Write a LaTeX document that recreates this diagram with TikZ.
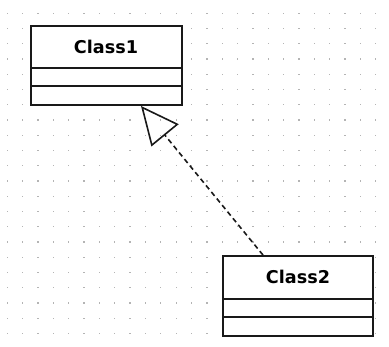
\documentclass[tikz,border=0pt]{standalone}
\usepackage{fontspec}
\setsansfont{DejaVu Sans}
\usetikzlibrary{arrows.meta}
\definecolor{dotc}{RGB}{180,180,180}
\definecolor{edge}{RGB}{25,25,25}
\tikzset{
  classbox/.style={draw=edge, fill=white, line width=1.9pt, minimum width=#1, inner sep=0pt},
  classtitle/.style={font=\sffamily\bfseries\fontsize{17.6}{20}\selectfont, inner sep=0pt, text=black},
  divider/.style={draw=edge, line width=1.8pt},
  realize/.style={draw=edge, line width=1.6pt, dash pattern=on 5pt off 3.5pt,
    -{Triangle[open, length=38pt, width=35pt, line width=1.6pt]}}
}
\begin{document}
\begin{tikzpicture}[x=1pt,y=-1pt]
\useasboundingbox (0,0) rectangle (389,347);
\fill[white] (0,0) rectangle (389,347);
% grid dots
\foreach \i in {0,...,24}{
  \foreach \j in {0,...,21}{
    \fill[dotc] ({7.3+\i*15.35-0.65},{13.3+\j*15.25-0.65}) rectangle ++(1.3,1.3);
  }
}
% Class1
\node[classbox=151pt, minimum height=79pt] (c1) at (106.5,65.5) {};
\node[classtitle] (c1t) at (106,47) {Class1};
\draw[divider] (c1.west |- 0,68) -- (c1.east |- 0,68);
\draw[divider] (c1.west |- 0,86) -- (c1.east |- 0,86);
% Class2
\node[classbox=150pt, minimum height=80pt] (c2) at (298,296) {};
\node[classtitle] (c2t) at (298,277) {Class2};
\draw[divider] (c2.west |- 0,299) -- (c2.east |- 0,299);
\draw[divider] (c2.west |- 0,317) -- (c2.east |- 0,317);
% realization
\coordinate (tail) at ([xshift=-35pt]c2.north);
\coordinate (head) at ([xshift=34.5pt]c1.south);
\draw[realize] (tail) -- (head);
\end{tikzpicture}
\end{document}
